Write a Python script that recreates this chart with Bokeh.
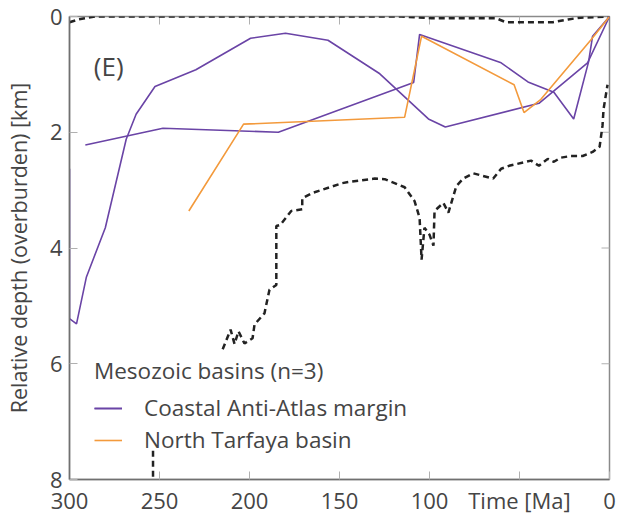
from bokeh.plotting import figure
from bokeh.models import Range1d, Legend, LegendItem, Label, FixedTicker
from bokeh.embed import file_html
from bokeh.resources import INLINE
import math

# ---- data (time in Ma, relative depth in km) ----
caam_a_time = [300, 300, 296.1, 290.6, 280.1, 268.5, 263.0, 252.5, 229.8, 199.4, 180.0, 156.4, 127.6, 100.6, 91.2, 39.2, 12.2, 0]
caam_a_depth = [2.63, 5.22, 5.31, 4.50, 3.65, 2.12, 1.69, 1.21, 0.92, 0.375, 0.29, 0.41, 0.99, 1.77, 1.91, 1.50, 0.80, 0]

caam_b_time = [291.2, 248.1, 184.0, 108.8, 105.5, 60.2, 45.3, 30.9, 19.9, 11.6, 9.4, 0]
caam_b_depth = [2.22, 1.93, 2.00, 1.14, 0.31, 0.80, 1.13, 1.31, 1.77, 0.78, 0.34, 0]

tarfaya_time = [233.7, 203.3, 113.8, 104.4, 53.0, 47.5, 38.1, 10.5, 0]
tarfaya_depth = [3.36, 1.86, 1.74, 0.34, 1.18, 1.66, 1.43, 0.41, 0]

env_top_time = [300, 295, 285.6, 115.5, 99, 63, 57.5, 31.5, 23, 16, 0]
env_top_depth = [0.10, 0.05, 0, 0, 0.03, 0.03, 0.10, 0.10, 0.05, 0.02, 0]

nan = float("nan")
env_bot_time = [253.6, 253.6, nan, 214.9, 210.5, 208.3, 206.1, 202.8, 198.3, 197.2, 191.7, 188.9, 185.1,
                185.1, 182.9, 176.8, 170.7, 170.7, 165.2, 148.6, 143.1, 130.4, 124.9, 113.8, 108.3,
                105.5, 104.4, 102.8, 100.0, 97.8, 97.2, 92.3, 89.5, 85.1, 81.2, 75.7, 64.6, 60.2,
                55.8, 43.6, 39.2, 34.3, 30.9, 27.1, 21.5, 14.9, 9.4, 5.5, 3.9, 3.3, 1.1]
env_bot_depth = [8.3, 7.49, nan, 5.75, 5.41, 5.66, 5.44, 5.65, 5.56, 5.32, 5.13, 4.72, 4.64,
                 3.62, 3.60, 3.36, 3.33, 3.14, 3.05, 2.88, 2.85, 2.80, 2.81, 2.95, 3.19,
                 3.48, 4.20, 3.65, 3.77, 3.96, 3.36, 3.22, 3.39, 2.93, 2.80, 2.71, 2.80, 2.63,
                 2.58, 2.49, 2.58, 2.46, 2.51, 2.44, 2.41, 2.41, 2.34, 2.25, 1.89, 1.60, 1.18]

x_ticks = [300, 250, 200, 150, 100, 50, 0]
y_ticks = [0, 2, 4, 6, 8]

FONT = "Open Sans"
TXT = "#454545"
PURPLE = "#6a44a6"
ORANGE = "#f39a3c"
TICK = "#b0b0b0"

p = figure(width=618, height=517, x_range=Range1d(300, 0), y_range=Range1d(8, 0),
           output_backend="svg", toolbar_location=None,
           min_border_left=66, min_border_right=9, min_border_top=16, min_border_bottom=32)
p.grid.visible = False
p.outline_line_color = "#8a8a8a"
p.outline_line_width = 1.5
p.background_fill_color = "white"
p.border_fill_color = "white"

# axes
p.xaxis.ticker = FixedTicker(ticks=x_ticks)
p.xaxis.major_label_overrides = {50: "Time [Ma]"}
p.yaxis.ticker = FixedTicker(ticks=y_ticks)
p.yaxis.axis_label = "Relative depth (overburden) [km]"

for ax in [p.xaxis[0], p.yaxis[0]]:
    ax.major_tick_in = 8
    ax.major_tick_out = 0
    ax.minor_tick_in = 0
    ax.minor_tick_out = 0
    ax.major_tick_line_color = TICK
    ax.axis_line_color = "#707070"
    ax.axis_line_width = 1.5
    ax.major_label_text_font = FONT
    ax.major_label_text_font_size = "22px"
    ax.major_label_text_color = TXT
    ax.axis_label_text_font = FONT
    ax.axis_label_text_font_size = "21.5px"
    ax.axis_label_text_font_style = "normal"
    ax.axis_label_text_color = TXT

p.xaxis.major_label_standoff = 5
p.yaxis.major_label_standoff = 7
p.yaxis.axis_label_standoff = 14

# inward tick marks on the top and right frame edges
p.scatter(x_ticks[1:-1], [0] * (len(x_ticks) - 2), marker="dash", angle=math.pi / 2,
          size=16, line_color=TICK, line_width=1)
p.scatter([0] * (len(y_ticks) - 2), y_ticks[1:-1], marker="dash",
          size=16, line_color=TICK, line_width=1)

# envelopes
p.line(env_top_time, env_top_depth, line_color="#222222", line_width=2.5, line_dash="6 4")
p.line(env_bot_time, env_bot_depth, line_color="#222222", line_width=2.5, line_dash="6 4")

# basins
r1 = p.line(caam_a_time, caam_a_depth, line_color=PURPLE, line_width=1.6)
r2 = p.line(caam_b_time, caam_b_depth, line_color=PURPLE, line_width=1.6)
r3 = p.line(tarfaya_time, tarfaya_depth, line_color=ORANGE, line_width=1.6)

legend = Legend(items=[LegendItem(label="Coastal Anti-Atlas margin", renderers=[r1, r2]),
                       LegendItem(label="North Tarfaya basin", renderers=[r3])],
                title="Mesozoic basins (n=3)", location=(25, 24),
                background_fill_alpha=0, border_line_color=None,
                padding=0, margin=0, spacing=1,
                glyph_width=28, label_standoff=22,
                label_text_font=FONT, label_text_font_size="22.5px", label_text_color=TXT,
                title_text_font=FONT, title_text_font_size="22.5px", title_text_color=TXT,
                title_text_font_style="normal", title_standoff=6)
p.add_layout(legend)

p.add_layout(Label(x=286.5, y=0.85, text="(E)", text_font=FONT, text_font_size="26px",
                   text_color=TXT, text_baseline="middle", text_align="left"))

open("out.html", "w").write(file_html(p, INLINE))
